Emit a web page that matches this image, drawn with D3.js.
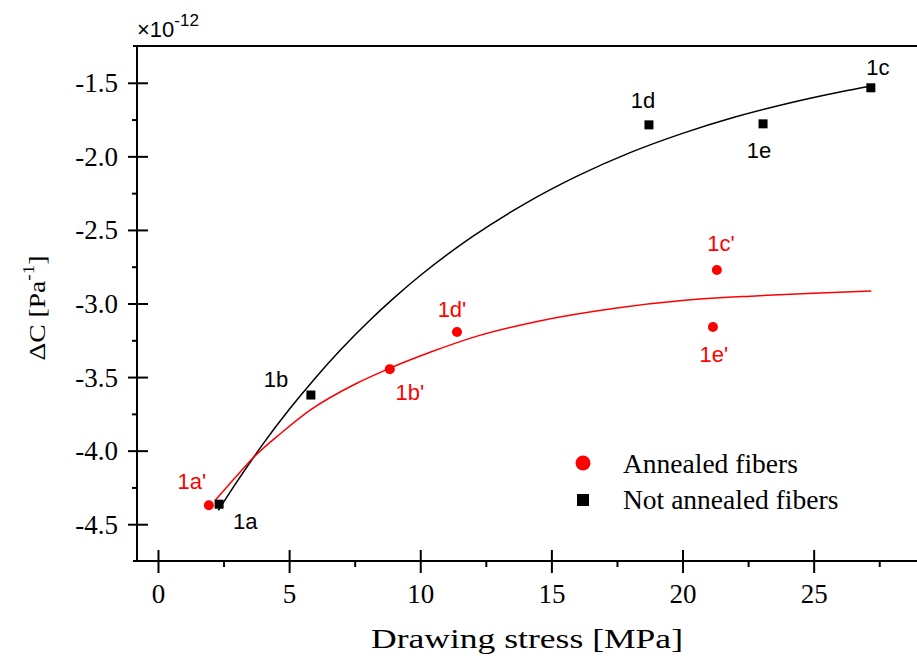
<!DOCTYPE html>
<html>
<head>
<meta charset="utf-8">
<script src="https://cdn.jsdelivr.net/npm/d3@7"></script>
<style>
  body { margin: 0; background: white; }
  svg { display: block; }
</style>
</head>
<body>
<div id="container"></div>
<script>
// drawing stress [MPa] and delta C [x1e-12 Pa^-1]
let annealedX = [1.94, 8.84, 11.40, 21.31, 21.16]
let annealedY = [-4.371, -3.446, -3.194, -2.772, -3.160]
let annealedNames = ["1a'", "1b'", "1d'", "1c'", "1e'"]

let plainX = [2.33, 5.83, 18.72, 23.07, 27.18]
let plainY = [-4.364, -3.622, -1.786, -1.779, -1.534]
let plainNames = ["1a", "1b", "1d", "1e", "1c"]

// fitted curves
let annealedFitX = [2.17, 2.86, 3.62, 4.7, 5.8, 7.6, 8.84, 10.4, 12.2, 14.5, 17.5, 20, 22.6, 25, 27.2]
let annealedFitY = [-4.34, -4.20, -4.05, -3.88, -3.725, -3.54, -3.44, -3.33, -3.22, -3.12, -3.03, -2.98, -2.95, -2.93, -2.915]
let plainFitX = [2.3, 3, 4, 5, 6, 7, 8, 9, 10, 12, 14, 16, 18, 20, 22, 24, 26, 27.2]
let plainFitY = [-4.406, -4.214, -3.956, -3.721, -3.506, -3.308, -3.127, -2.962, -2.81, -2.544, -2.321, -2.133, -1.975, -1.844, -1.733, -1.641, -1.563, -1.522]

let xMajor = [0, 5, 10, 15, 20, 25]
let xMinor = [2.5, 7.5, 12.5, 17.5, 22.5, 27.5]
let yMajor = [-4.5, -4.0, -3.5, -3.0, -2.5, -2.0, -1.5]
let yMinor = [-4.25, -3.75, -3.25, -2.75, -2.25, -1.75]

let legendNames = ["Annealed fibers", "Not annealed fibers"]

// label offsets in px from each point: [dx, dy, anchor]
let annealedLabelPos = [[-17, -16, "middle"], [20, 31, "middle"], [-5, -15, "middle"], [4, -19, "middle"], [1, 35, "middle"]]
let plainLabelPos = [[14, 25, "start"], [-35, -8, "middle"], [-6, -17, "middle"], [-4, 34, "middle"], [7, -13, "middle"]]

const W = 917, H = 661
const serif = "'Liberation Serif', 'Times New Roman', serif"
const sans = "'Liberation Sans', Arial, sans-serif"

let svg = d3.select("#container").append("svg")
    .attr("width", W)
    .attr("height", H)

let x = d3.scaleLinear().domain([-0.8, 28.94]).range([137, 917])
let y = d3.scaleLinear().domain([-4.75, -1.25]).range([561, 46])

// frame lines
svg.append("line").attr("x1", 133).attr("x2", W).attr("y1", 46).attr("y2", 46)
    .attr("stroke", "black").attr("stroke-width", 2)
svg.append("line").attr("x1", 137).attr("x2", 137).attr("y1", 45).attr("y2", 562)
    .attr("stroke", "black").attr("stroke-width", 2)
svg.append("line").attr("x1", 133).attr("x2", W).attr("y1", 561).attr("y2", 561)
    .attr("stroke", "black").attr("stroke-width", 2)

// x axis
let xAxis = svg.append("g").attr("transform", "translate(0,561)")
    .call(d3.axisBottom(x).tickValues(xMajor).tickSize(12).tickFormat(d3.format("d")))
xAxis.select(".domain").remove()
xAxis.selectAll(".tick line").attr("y1", -11).attr("stroke-width", 2)
xAxis.selectAll(".tick text")
    .attr("y", 42).attr("dy", 0)
    .style("font-family", serif).style("font-size", "27px").attr("fill", "black")

let xAxisMinor = svg.append("g").attr("transform", "translate(0,561)")
    .call(d3.axisBottom(x).tickValues(xMinor).tickSize(6).tickFormat(""))
xAxisMinor.select(".domain").remove()
xAxisMinor.selectAll(".tick line").attr("stroke-width", 2)

// y axis
let yAxis = svg.append("g").attr("transform", "translate(137,0)")
    .call(d3.axisLeft(y).tickValues(yMajor).tickSize(9).tickFormat(d3.format(".1f")))
yAxis.select(".domain").remove()
yAxis.selectAll(".tick line").attr("x1", 11).attr("stroke-width", 2)
yAxis.selectAll(".tick text")
    .text(d => d3.format(".1f")(d).replace("\u2212", "-"))
    .attr("x", -19).attr("dy", 9)
    .style("font-family", serif).style("font-size", "27px").attr("fill", "black")

let yAxisMinor = svg.append("g").attr("transform", "translate(137,0)")
    .call(d3.axisLeft(y).tickValues(yMinor).tickSize(5).tickFormat(""))
yAxisMinor.select(".domain").remove()
yAxisMinor.selectAll(".tick line").attr("stroke-width", 2)

// exponent label
let expo = svg.append("text").attr("x", 137).attr("y", 37)
    .style("font-family", sans).style("font-size", "22px")
expo.append("tspan").text("\u00d710")
expo.append("tspan").attr("dy", -11).style("font-size", "17px").text("-12")

// axis titles
svg.append("text")
    .attr("x", 527).attr("y", 648)
    .attr("text-anchor", "middle")
    .attr("textLength", 312).attr("lengthAdjust", "spacingAndGlyphs")
    .style("font-family", serif).style("font-size", "28px")
    .text("Drawing stress [MPa]")

let yTitle = svg.append("text")
    .attr("transform", "translate(45,308) rotate(-90) scale(1.2,1)")
    .attr("text-anchor", "middle")
    .style("font-family", serif).style("font-size", "23px")
yTitle.append("tspan").text("\u0394C [Pa")
yTitle.append("tspan").attr("dy", -11).style("font-size", "16px").text("-1")
yTitle.append("tspan").attr("dy", 11).text("]")

// fit curves
let line = d3.line().x(d => x(d[0])).y(d => y(d[1])).curve(d3.curveMonotoneX)
svg.append("path").datum(d3.zip(plainFitX, plainFitY))
    .attr("d", line).attr("fill", "none").attr("stroke", "black").attr("stroke-width", 1.5)
svg.append("path").datum(d3.zip(annealedFitX, annealedFitY))
    .attr("d", line).attr("fill", "none").attr("stroke", "#ff0000").attr("stroke-width", 1.5)

// points
let plain = d3.zip(plainX, plainY, plainNames, plainLabelPos)
let annealed = d3.zip(annealedX, annealedY, annealedNames, annealedLabelPos)

svg.selectAll("rect.pt").data(plain).enter().append("rect")
    .attr("class", "pt")
    .attr("x", d => x(d[0]) - 4.5).attr("y", d => y(d[1]) - 4.5)
    .attr("width", 9).attr("height", 9).attr("fill", "black")

svg.selectAll("circle.pt").data(annealed).enter().append("circle")
    .attr("class", "pt")
    .attr("cx", d => x(d[0])).attr("cy", d => y(d[1]))
    .attr("r", 5).attr("fill", "#ff0000")

svg.selectAll("text.plainLab").data(plain).enter().append("text")
    .attr("class", "plainLab")
    .attr("x", d => x(d[0]) + d[3][0]).attr("y", d => y(d[1]) + d[3][1])
    .attr("text-anchor", d => d[3][2])
    .style("font-family", sans).style("font-size", "22px").attr("fill", "black")
    .text(d => d[2])

svg.selectAll("text.annLab").data(annealed).enter().append("text")
    .attr("class", "annLab")
    .attr("x", d => x(d[0]) + d[3][0]).attr("y", d => y(d[1]) + d[3][1])
    .attr("text-anchor", d => d[3][2])
    .style("font-family", sans).style("font-size", "22px").attr("fill", "#ff0000")
    .text(d => d[2])

// legend
let legend = svg.append("g")
legend.append("circle").attr("cx", 583).attr("cy", 463).attr("r", 7.5).attr("fill", "#ff0000")
legend.append("rect").attr("x", 577).attr("y", 494).attr("width", 12).attr("height", 12).attr("fill", "black")
legend.selectAll("text").data(legendNames).enter().append("text")
    .attr("x", 623).attr("y", (d, i) => 473 + i * 36)
    .style("font-family", serif).style("font-size", "27.5px")
    .text(d => d)
</script>
</body>
</html>
